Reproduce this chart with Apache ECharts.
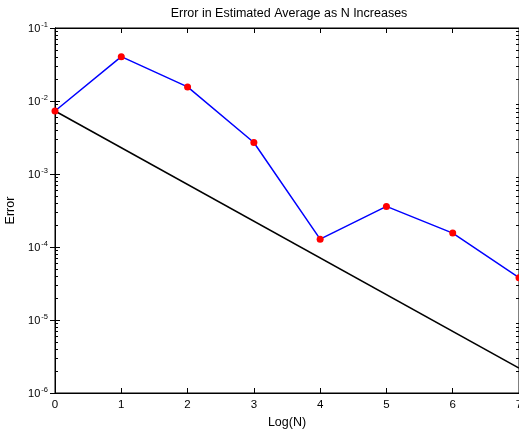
<!DOCTYPE html>
<html>
<head>
<meta charset="utf-8">
<script src="https://cdn.jsdelivr.net/npm/echarts@6/dist/echarts.min.js"></script>
<style>
  html, body { margin: 0; padding: 0; background: #fff; }
  #chart { width: 519px; height: 431px; }
</style>
</head>
<body>
<div id="chart"></div>
<script>
// Log10(N) positions and the measured error at each
const logN = [0, 1, 2, 3, 4, 5, 6, 7];
const errorValues = [7.3e-3, 4.05e-2, 1.56e-2, 2.7e-3, 1.28e-4, 3.6e-4, 1.55e-4, 3.8e-5];
// Reference 1/sqrt(N) line, given by its two end points
const refLineX = [0, 7];
const refLineY = [7.3e-3, 2.2e-6];
// Axis limits
const yMin = 1e-6, yMax = 1e-1;
const xMin = 0, xMax = 7;

const FONT = "'Liberation Sans', Arial, Helvetica, sans-serif";
const GRID = { left: 55, top: 28, right: 0, bottom: 38 };

const chart = echarts.init(document.getElementById('chart'));

function expLabel(v) {
  const e = Math.round(Math.log10(v));
  return '{b|10}{s|' + e + '}';
}

const yLabelRich = {
  b: { fontSize: 11, fontFamily: FONT, color: '#000', lineHeight: 15, padding: [1, 0, 0, 0] },
  s: { fontSize: 7.5, fontFamily: FONT, color: '#000', verticalAlign: 'top', lineHeight: 15, padding: [0, 0, 2, 1] }
};

chart.setOption({
  animation: false,
  backgroundColor: '#fff',
  title: {
    text: 'Error in Estimated Average as N Increases',
    left: 284, textAlign: 'center', top: 2,
    textStyle: { fontSize: 12.5, fontWeight: 'normal', color: '#000', fontFamily: FONT }
  },
  grid: Object.assign({ show: true, borderColor: '#000', borderWidth: 1, backgroundColor: '#fff', outerBoundsMode: 'none', containLabel: false }, GRID),
  xAxis: [{
    type: 'value', min: xMin, max: xMax, interval: 1,
    name: 'Log(N)', nameLocation: 'middle', nameGap: 22,
    nameTextStyle: { fontSize: 12.5, color: '#000', fontFamily: FONT },
    axisLine: { lineStyle: { color: '#000', width: 1 } },
    axisTick: { inside: true, length: 5, lineStyle: { color: '#000' } },
    axisLabel: { fontSize: 11.5, color: '#000', fontFamily: FONT, margin: 6, showMaxLabel: true, showMinLabel: true },
    splitLine: { show: false }
  }, {
    type: 'value', min: xMin, max: xMax, interval: 1, position: 'top',
    axisLine: { lineStyle: { color: '#000', width: 1 } },
    axisTick: { inside: true, length: 5, lineStyle: { color: '#000' } },
    axisLabel: { show: false },
    splitLine: { show: false }
  }],
  yAxis: [{
    type: 'log', logBase: 10, min: yMin, max: yMax,
    name: 'Error', nameLocation: 'middle', nameGap: 38, nameRotate: 90,
    nameTextStyle: { fontSize: 12.5, color: '#000', fontFamily: FONT },
    axisLine: { lineStyle: { color: '#000', width: 1 } },
    axisTick: { inside: true, length: 5, lineStyle: { color: '#000' } },
    axisLabel: { formatter: expLabel, rich: yLabelRich, margin: 7 },
    splitLine: { show: false }
  }, {
    type: 'log', logBase: 10, min: yMin, max: yMax, position: 'right',
    axisLine: { lineStyle: { color: '#000', width: 1 } },
    axisTick: { inside: true, length: 5, lineStyle: { color: '#000' } },
    axisLabel: { show: false },
    splitLine: { show: false }
  }],
  series: [{
    type: 'line',
    data: refLineX.map((x, i) => [x, refLineY[i]]),
    showSymbol: false,
    lineStyle: { color: '#000', width: 1.5 },
    z: 2
  }, {
    type: 'line',
    data: logN.map((x, i) => [x, errorValues[i]]),
    symbol: 'circle', symbolSize: 7,
    lineStyle: { color: '#0000ff', width: 1.5 },
    itemStyle: { color: '#ff0000' },
    z: 3
  }]
});

// Minor log ticks (2..9 in each decade) on the left and right frame edges
const minorTicks = [];
const xLeft = chart.convertToPixel({ xAxisIndex: 0 }, xMin);
const xRight = chart.convertToPixel({ xAxisIndex: 0 }, xMax);
for (let d = -6; d < -1; d++) {
  for (let k = 2; k <= 9; k++) {
    const y = Math.round(chart.convertToPixel({ yAxisIndex: 0 }, k * Math.pow(10, d))) + 0.5;
    minorTicks.push({ type: 'line', shape: { x1: xLeft, y1: y, x2: xLeft + 3, y2: y }, style: { stroke: '#000', lineWidth: 1 }, silent: true });
    minorTicks.push({ type: 'line', shape: { x1: xRight - 3, y1: y, x2: xRight, y2: y }, style: { stroke: '#000', lineWidth: 1 }, silent: true });
  }
}
chart.setOption({ graphic: minorTicks });
</script>
</body>
</html>
